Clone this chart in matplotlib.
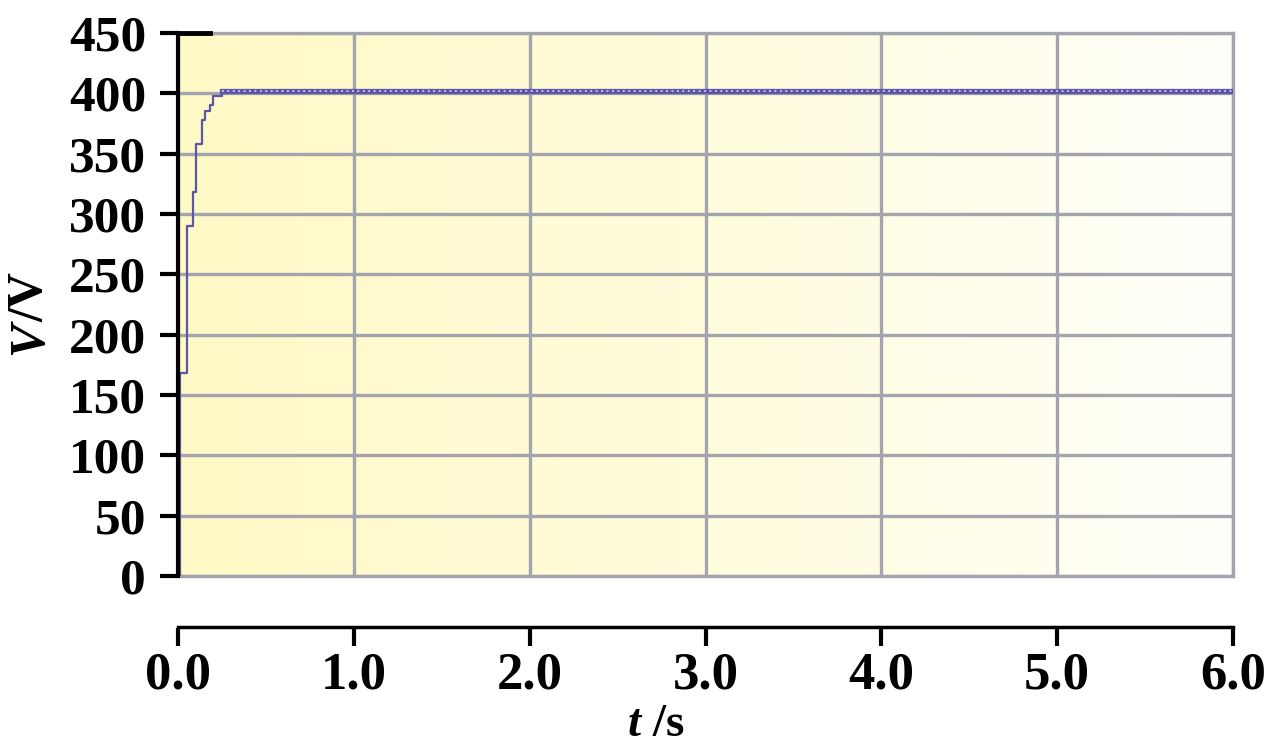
import numpy as np
import matplotlib.pyplot as plt
from matplotlib.colors import LinearSegmentedColormap

# step response
t = [0.0, 0.01, 0.05, 0.085, 0.10, 0.135, 0.155, 0.18, 0.20, 0.25, 6.0]
v = [0, 168, 290, 318, 358, 378, 385, 390, 398, 402, 402]

yticks = [0, 50, 100, 150, 200, 250, 300, 350, 400, 450]
xticks = [0, 1, 2, 3, 4, 5, 6]
xlabels = ['0.0', '1.0', '2.0', '3.0', '4.0', '5.0', '6.0']

plt.rcParams['font.family'] = 'Liberation Serif'
plt.rcParams['font.weight'] = 'bold'

W, H = 1281, 744
fig = plt.figure(figsize=(W / 100, H / 100), dpi=100)

x0, x1 = 178 / W, 1233 / W
ax = fig.add_axes([x0, 1 - 576 / H, x1 - x0, (576 - 33) / H])

# yellow-to-white background
grad = np.linspace(0, 1, 256)[None, :]
cmap = LinearSegmentedColormap.from_list('bg', ['#fff9c6', '#fffcdc', '#fffffa'])
ax.imshow(grad, extent=[0, 6, 0, 450], aspect='auto', cmap=cmap, zorder=0)

ax.set_xlim(0, 6)
ax.set_ylim(0, 450)
ax.set_yticks(yticks)
ax.set_yticklabels([str(y) for y in yticks], fontsize=37, fontweight='bold')
ax.set_xticks(xticks)
ax.tick_params(axis='x', length=0, labelbottom=False)
ax.tick_params(axis='y', direction='out', length=13, width=3, pad=10)

ax.grid(True, color='#a3a4ae', linewidth=2.4, zorder=1)
for s in ['top', 'right', 'bottom']:
    ax.spines[s].set_color('#a3a4ae')
    ax.spines[s].set_linewidth(2.4)
ax.spines['left'].set_linewidth(3)
ax.spines['left'].set_zorder(5)
ax.axhline(450, xmin=0, xmax=0.03, color='black', linewidth=3.5, zorder=6, clip_on=False)

ax.step(t, v, where='post', color='#5d55a8', linewidth=1.6, zorder=3)
# striped look on the steady part
ax.step(t[-2:], v[-2:], where='post', color='#5d55a8', linewidth=3.8, zorder=3)
ax.step(t[-2:], v[-2:], where='post', color='#cfcdee', linewidth=1.3,
        dashes=(1, 2), zorder=4)

# y label: italic V, upright /V, reading bottom to top
fig.text(30 / W, 1 - 322 / H, 'V', fontsize=36, fontweight='bold', style='italic',
         rotation=90, ha='center', va='top')
fig.text(30 / W, 1 - 322 / H, '/V', fontsize=36, fontweight='bold',
         rotation=90, ha='center', va='bottom')

# separate time axis below
axb = fig.add_axes([x0, 1 - 628 / H, x1 - x0, 0.001])
axb.set_xlim(0, 6)
axb.set_xticks(xticks)
axb.set_xticklabels(xlabels, fontsize=38, fontweight='bold')
axb.set_yticks([])
for s in ['right', 'bottom', 'left']:
    axb.spines[s].set_visible(False)
axb.spines['top'].set_linewidth(2.5)
axb.xaxis.set_ticks_position('bottom')
axb.tick_params(axis='x', direction='out', length=13, width=3, pad=4)
axb.patch.set_alpha(0)

fig.text(641 / W, 1 - 725 / H, 't', fontsize=34, fontweight='bold', style='italic',
         ha='right', va='center')
fig.text(641 / W, 1 - 725 / H, ' /s', fontsize=34, fontweight='bold',
         ha='left', va='center')

fig.savefig('out.png', dpi=100)
